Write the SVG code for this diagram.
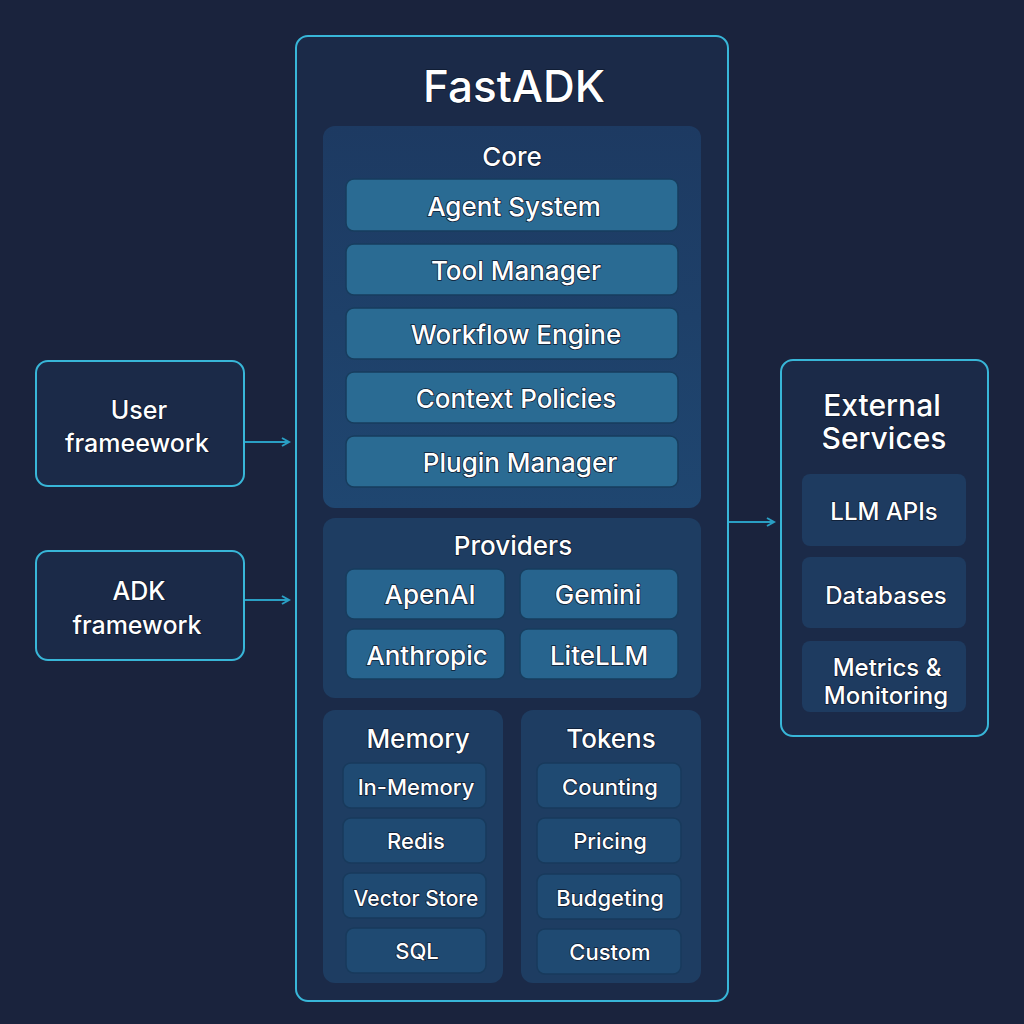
<svg xmlns="http://www.w3.org/2000/svg" width="1024" height="1024" viewBox="0 0 1024 1024">
<defs>
<linearGradient id="coreG" x1="0" y1="0" x2="0" y2="1"><stop offset="0" stop-color="#1d3a62"/><stop offset="1" stop-color="#1f4670"/></linearGradient>
<marker id="arr" viewBox="0 0 10 10" refX="8" refY="5" markerWidth="10" markerHeight="10" markerUnits="userSpaceOnUse" orient="auto"><path d="M1,1 L8,5 L1,9" fill="none" stroke="#2a9fc4" stroke-width="2"/></marker>
<style>
text{font-family:"Inter","Liberation Sans",sans-serif;font-weight:500;fill:#ffffff;text-anchor:middle;dominant-baseline:central;paint-order:stroke;stroke:#0e1a30;stroke-width:1.5px}
.frame{fill:#1b2a48;stroke:#38b6d8;stroke-width:2}
.panel{fill:#1e3d62;stroke:none}
.core{fill:url(#coreG);stroke:none}
.item{fill:#2a6b93;stroke:#173d5e;stroke-width:1.5}
.prov{fill:#27648e;stroke:#173d5e;stroke-width:1.5}
.sub{fill:#1f4a72;stroke:#183a5c;stroke-width:1.5}
.ext{fill:#1e3b60;stroke:none}
.conn{stroke:#2a9fc4;stroke-width:2;fill:none;marker-end:url(#arr)}
</style>
</defs>
<rect width="1024" height="1024" fill="#1a233d"/>
<g id="fastadk">
<rect class="frame" x="296" y="36" width="432" height="965" rx="12"/>
<text x="514" y="86" font-size="44">FastADK</text>
</g>
<g id="core">
<rect class="core" x="323" y="126" width="378" height="382" rx="12"/>
<text x="512" y="156" font-size="26">Core</text>
<g id="agent-system"><rect class="item" x="346" y="179" width="332" height="52" rx="8"/><text x="514" y="206" font-size="26">Agent System</text></g>
<g id="tool-manager"><rect class="item" x="346" y="244" width="332" height="51" rx="8"/><text x="516" y="270" font-size="26">Tool Manager</text></g>
<g id="workflow-engine"><rect class="item" x="346" y="308" width="332" height="51" rx="8"/><text x="516" y="334" font-size="26">Workflow Engine</text></g>
<g id="context-policies"><rect class="item" x="346" y="372" width="332" height="51" rx="8"/><text x="516" y="398" font-size="26">Context Policies</text></g>
<g id="plugin-manager"><rect class="item" x="346" y="436" width="332" height="51" rx="8"/><text x="520" y="462" font-size="26">Plugin Manager</text></g>
</g>
<g id="providers">
<rect class="panel" x="323" y="518" width="378" height="180" rx="12"/>
<text x="513" y="545" font-size="26">Providers</text>
<g id="apenai"><rect class="prov" x="346" y="569" width="159" height="50" rx="8"/><text x="430" y="594" font-size="26">ApenAI</text></g>
<g id="gemini"><rect class="prov" x="520" y="569" width="158" height="50" rx="8"/><text x="598" y="594" font-size="26">Gemini</text></g>
<g id="anthropic"><rect class="prov" x="346" y="629" width="159" height="50" rx="8"/><text x="427" y="655" font-size="26">Anthropic</text></g>
<g id="litellm"><rect class="prov" x="520" y="629" width="158" height="50" rx="8"/><text x="599" y="655" font-size="26">LiteLLM</text></g>
</g>
<g id="memory">
<rect class="panel" x="323" y="710" width="180" height="273" rx="12"/>
<text x="418" y="738" font-size="26">Memory</text>
<g id="in-memory"><rect class="sub" x="343" y="763" width="143" height="45" rx="8"/><text x="416" y="787" font-size="22">In-Memory</text></g>
<g id="redis"><rect class="sub" x="343" y="818" width="143" height="45" rx="8"/><text x="416" y="841" font-size="22">Redis</text></g>
<g id="vector-store"><rect class="sub" x="343" y="873" width="143" height="45" rx="8"/><text x="416" y="898" font-size="21">Vector Store</text></g>
<g id="sql"><rect class="sub" x="346" y="928" width="140" height="45" rx="8"/><text x="417" y="951" font-size="22">SQL</text></g>
</g>
<g id="tokens">
<rect class="panel" x="521" y="710" width="180" height="273" rx="12"/>
<text x="611" y="738" font-size="26">Tokens</text>
<g id="counting"><rect class="sub" x="537" y="763" width="144" height="45" rx="8"/><text x="610" y="787" font-size="22">Counting</text></g>
<g id="pricing"><rect class="sub" x="537" y="818" width="144" height="45" rx="8"/><text x="610" y="841" font-size="22">Pricing</text></g>
<g id="budgeting"><rect class="sub" x="537" y="874" width="144" height="45" rx="8"/><text x="610" y="898" font-size="22">Budgeting</text></g>
<g id="custom"><rect class="sub" x="537" y="929" width="144" height="45" rx="8"/><text x="610" y="952" font-size="22">Custom</text></g>
</g>
<g id="user-framework">
<rect class="frame" x="36" y="361" width="208" height="125" rx="12"/>
<text x="139" y="410" font-size="25">User</text>
<text x="137" y="443" font-size="25">frameework</text>
</g>
<g id="adk-framework">
<rect class="frame" x="36" y="551" width="208" height="109" rx="12"/>
<text x="139" y="591" font-size="25">ADK</text>
<text x="137" y="625" font-size="25">framework</text>
</g>
<g id="external-services">
<rect class="frame" x="781" y="360" width="207" height="376" rx="12"/>
<text x="882" y="405" font-size="30">External</text>
<text x="884" y="438" font-size="30">Services</text>
<g id="llm-apis"><rect class="ext" x="802" y="474" width="164" height="72" rx="8"/><text x="884" y="511" font-size="24">LLM APIs</text></g>
<g id="databases"><rect class="ext" x="802" y="557" width="164" height="71" rx="8"/><text x="886" y="595" font-size="24">Databases</text></g>
<g id="metrics"><rect class="ext" x="802" y="641" width="164" height="71" rx="8"/><text x="887" y="667" font-size="24">Metrics &amp;</text><text x="886" y="695" font-size="24">Monitoring</text></g>
</g>
<g id="connectors">
<line class="conn" x1="245" y1="442" x2="289" y2="442"/>
<line class="conn" x1="245" y1="600" x2="289" y2="600"/>
<line class="conn" x1="729" y1="522" x2="774" y2="522"/>
</g>
</svg>
